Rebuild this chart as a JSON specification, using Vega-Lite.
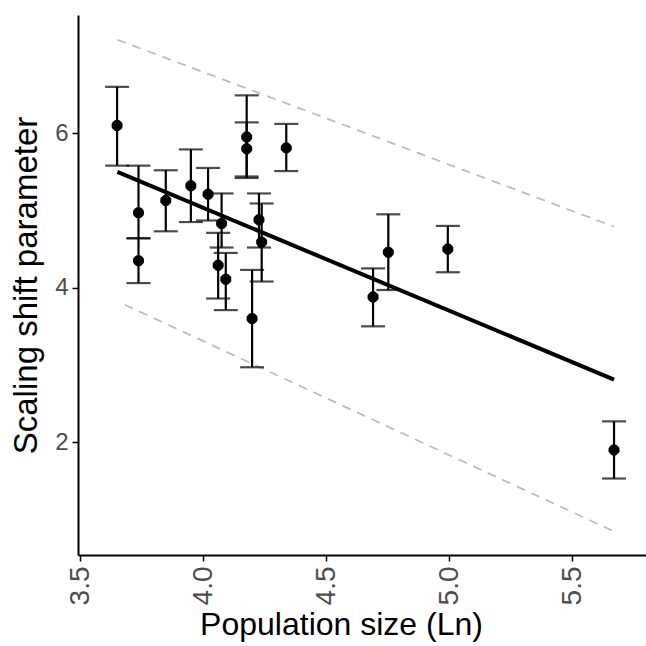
{
  "$schema": "https://vega.github.io/schema/vega-lite/v6.json",
  "width": 568,
  "height": 540,
  "autosize": {"type": "none"},
  "padding": {"left": 78, "top": 15, "right": 0, "bottom": 91},
  "background": "white",
  "config": {
    "view": {"stroke": null},
    "font": "Liberation Sans",
    "axis": {
      "grid": false,
      "domainColor": "black",
      "domainWidth": 2,
      "tickColor": "black",
      "tickWidth": 1.5,
      "tickSize": 6,
      "labelColor": "#4d4d4d",
      "labelFont": "Liberation Sans",
      "titleFont": "Liberation Sans",
      "titleFontWeight": "normal",
      "titleColor": "black"
    }
  },
  "datasets": {
    "points": [
      {"pop": 3.649, "shift": 6.10, "lo": 5.58, "hi": 6.60},
      {"pop": 3.736, "shift": 4.97, "lo": 4.64, "hi": 5.58},
      {"pop": 3.736, "shift": 4.35, "lo": 4.06, "hi": 4.64},
      {"pop": 3.847, "shift": 5.13, "lo": 4.73, "hi": 5.52},
      {"pop": 3.949, "shift": 5.32, "lo": 4.85, "hi": 5.79},
      {"pop": 4.019, "shift": 5.21, "lo": 4.87, "hi": 5.55},
      {"pop": 4.074, "shift": 4.83, "lo": 4.52, "hi": 5.22},
      {"pop": 4.060, "shift": 4.29, "lo": 3.86, "hi": 4.71},
      {"pop": 4.091, "shift": 4.11, "lo": 3.71, "hi": 4.45},
      {"pop": 4.198, "shift": 3.60, "lo": 2.97, "hi": 4.23},
      {"pop": 4.176, "shift": 5.95, "lo": 5.44, "hi": 6.49},
      {"pop": 4.176, "shift": 5.80, "lo": 5.42, "hi": 6.14},
      {"pop": 4.337, "shift": 5.81, "lo": 5.51, "hi": 6.12},
      {"pop": 4.226, "shift": 4.88, "lo": 4.52, "hi": 5.22},
      {"pop": 4.237, "shift": 4.59, "lo": 4.08, "hi": 5.09},
      {"pop": 4.690, "shift": 3.88, "lo": 3.50, "hi": 4.25},
      {"pop": 4.752, "shift": 4.46, "lo": 3.97, "hi": 4.95},
      {"pop": 4.994, "shift": 4.50, "lo": 4.20, "hi": 4.80},
      {"pop": 5.670, "shift": 1.90, "lo": 1.53, "hi": 2.27}
    ],
    "lines": [
      {"series": "fit", "pop": 3.65, "shift": 5.50},
      {"series": "fit", "pop": 5.67, "shift": 2.81},
      {"series": "upper", "pop": 3.65, "shift": 7.21},
      {"series": "upper", "pop": 5.67, "shift": 4.79},
      {"series": "lower", "pop": 3.68, "shift": 3.78},
      {"series": "lower", "pop": 5.67, "shift": 0.845}
    ]
  },
  "layer": [
    {
      "data": {"name": "lines"},
      "transform": [{"filter": "datum.series !== 'fit'"}],
      "mark": {"type": "line", "color": "#bebebe", "strokeWidth": 1.8, "strokeDash": [9, 7]},
      "encoding": {
        "x": {"field": "pop", "type": "quantitative", "scale": {"domain": [3.49, 5.8], "nice": false, "zero": false},
          "axis": {"title": "Population size (Ln)", "values": [3.5, 4.0, 4.5, 5.0, 5.5], "format": ".1f", "labelAngle": -90, "labelAlign": "right", "labelBaseline": "middle", "labelPadding": 5, "labelFontSize": 28, "titleFontSize": 32, "titlePadding": 5, "titleX": 263}},
        "y": {"field": "shift", "type": "quantitative", "scale": {"domain": [0.54, 7.53], "nice": false, "zero": false},
          "axis": {"title": "Scaling shift parameter", "values": [2, 4, 6], "format": "d", "labelFontSize": 24, "labelPadding": 4, "titleFontSize": 33, "titlePadding": 11}},
        "detail": {"field": "series"}
      }
    },
    {
      "data": {"name": "lines"},
      "transform": [{"filter": "datum.series === 'fit'"}],
      "mark": {"type": "line", "color": "black", "strokeWidth": 4},
      "encoding": {
        "x": {"field": "pop", "type": "quantitative"},
        "y": {"field": "shift", "type": "quantitative"}
      }
    },
    {
      "data": {"name": "points"},
      "mark": {"type": "rule", "color": "black", "strokeWidth": 2.2},
      "encoding": {
        "x": {"field": "pop", "type": "quantitative"},
        "y": {"field": "lo", "type": "quantitative"},
        "y2": {"field": "hi"}
      }
    },
    {
      "data": {"name": "points"},
      "mark": {"type": "tick", "color": "black", "orient": "horizontal", "size": 24, "thickness": 2.2},
      "encoding": {
        "x": {"field": "pop", "type": "quantitative"},
        "y": {"field": "lo", "type": "quantitative"}
      }
    },
    {
      "data": {"name": "points"},
      "mark": {"type": "tick", "color": "black", "orient": "horizontal", "size": 24, "thickness": 2.2},
      "encoding": {
        "x": {"field": "pop", "type": "quantitative"},
        "y": {"field": "hi", "type": "quantitative"}
      }
    },
    {
      "data": {"name": "points"},
      "mark": {"type": "point", "shape": "M-1,0L1,0M0,-1L0,1M-0.7,-0.7L0.7,0.7M-0.7,0.7L0.7,-0.7", "filled": false, "stroke": "black", "strokeWidth": 4, "size": 120, "opacity": 1},
      "encoding": {
        "x": {"field": "pop", "type": "quantitative"},
        "y": {"field": "shift", "type": "quantitative"}
      }
    }
  ]
}
